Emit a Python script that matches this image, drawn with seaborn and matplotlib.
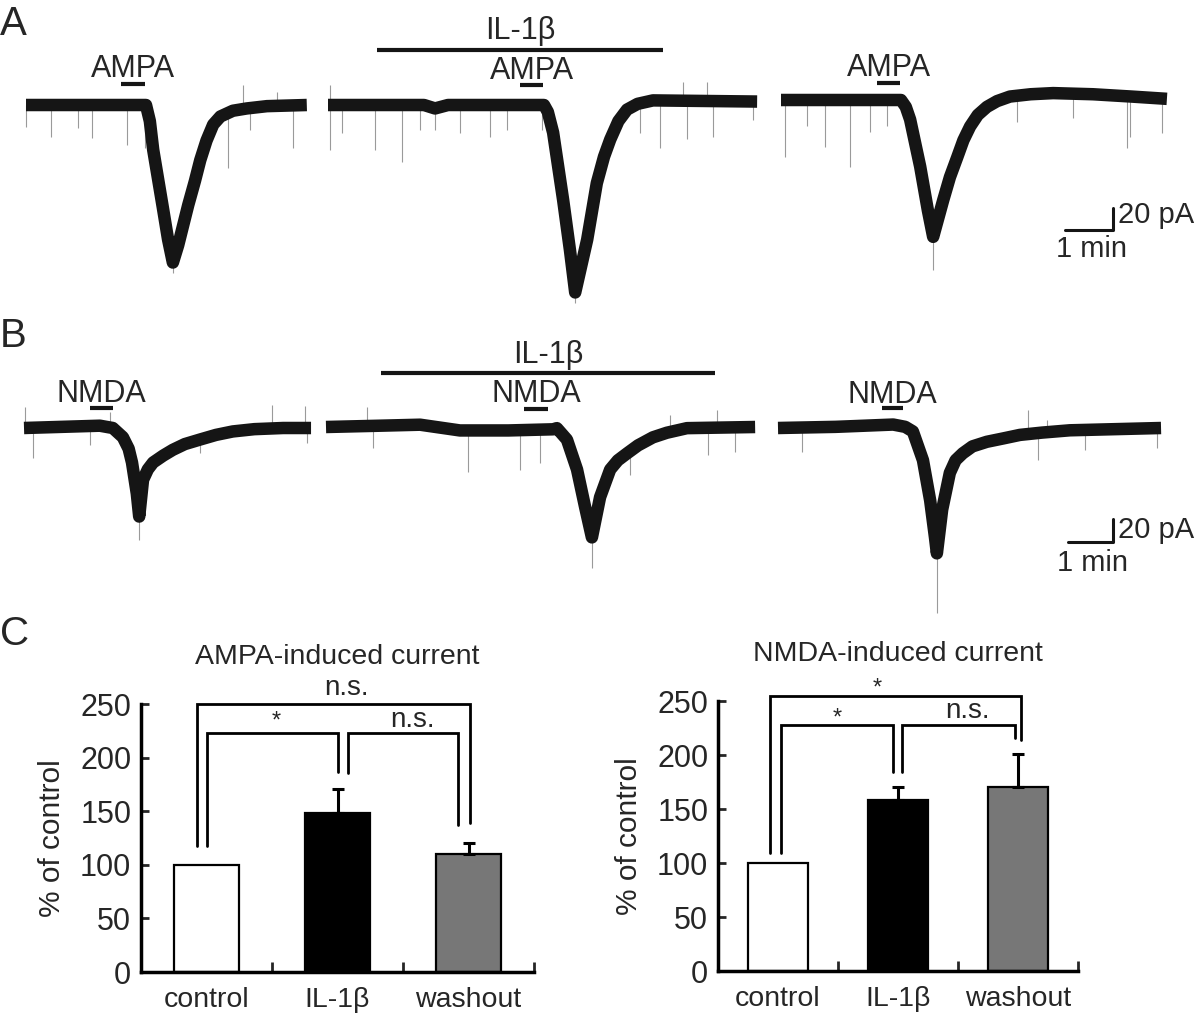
import numpy as np
import pandas as pd
import matplotlib
matplotlib.use("Agg")
import matplotlib.pyplot as plt
import seaborn as sns

sns.set_theme(style="white")
plt.rcParams['font.family'] = ['Liberation Sans', 'DejaVu Sans']

# ---- traces: time (min) and current (pA) ----
a1_t = [0, 2.50, 2.58, 2.65, 2.85, 2.96, 3.06, 3.17, 3.38, 3.52, 3.63, 3.76, 3.90, 4.05, 4.31, 4.6, 5.02, 5.85]
a1_i = [0, 0, -14, -39, -89, -117, -137, -122, -87, -66, -48, -31, -17, -10, -5, -3, -1, 0]
a2_t = [0, 2.0, 2.23, 2.5, 4.50, 4.58, 4.69, 4.90, 5.04, 5.15, 5.40, 5.60, 5.75, 5.88, 6.05, 6.23, 6.45, 6.77, 8.94]
a2_i = [0, 0, -3, 0, 0, -6, -24, -83, -126, -163, -117, -68, -45, -30, -14, -4, 1, 4, 3]
a3_t = [0, 2.50, 2.60, 2.69, 2.90, 3.06, 3.17, 3.38, 3.52, 3.67, 3.80, 3.94, 4.10, 4.29, 4.5, 4.77, 5.2, 5.67, 6.5, 7.3, 8.04]
a3_i = [0, 0, -6, -17, -58, -96, -119, -87, -67, -50, -35, -23, -13, -6, -1, 3, 5, 6, 5, 3, 1]

b1_t = [0, 1.58, 1.85, 2.06, 2.18, 2.25, 2.35, 2.40, 2.48, 2.58, 2.69, 2.9, 3.10, 3.35, 3.67, 4.0, 4.35, 4.8, 5.40, 5.98]
b1_i = [0, 2, 0, -8, -18, -30, -57, -77, -45, -36, -30, -24, -19, -14, -10, -6, -3, -1, 0, 0]
b2_t = [0, 1.0, 1.96, 2.79, 3.8, 4.73, 4.81, 5.02, 5.23, 5.40, 5.54, 5.71, 5.92, 6.08, 6.27, 6.5, 6.81, 7.1, 7.52, 8.94]
b2_i = [0, 1, 2, -3, -3, -2, -1, -11, -37, -70, -96, -61, -37, -29, -23, -16, -9, -5, -1, 0]
b3_t = [0, 1.2, 2.40, 2.65, 2.81, 3.02, 3.17, 3.27, 3.31, 3.42, 3.58, 3.70, 3.85, 4.05, 4.35, 4.7, 5.04, 5.5, 6.08, 7.98]
b3_i = [0, 1, 3, 1, -3, -28, -63, -95, -109, -71, -39, -28, -22, -16, -12, -9, -6, -4, -2, 0]

# noise spikes: time, start current, end current
a1_spk_t = [0.01, 0.52, 1.09, 1.37, 2.10, 2.48, 3.06, 4.21, 4.67, 5.56, 4.52, 5.23]
a1_spk_a = [0, 0, 0, 0, 0, 0, -137, -6, -3, -1, -4, -1]
a1_spk_b = [-19, -28, -20, -29, -35, -37, -146, -55, -22, -37, 17, 11]
a2_spk_t = [0.04, 0.29, 0.98, 1.54, 1.92, 2.23, 2.75, 3.38, 3.73, 4.46, 5.15, 6.5, 6.92, 7.48, 8.02, 8.85, 0.04, 7.4, 7.9]
a2_spk_a = [0, 0, 0, 0, 0, -3, 0, 0, 0, 0, -163, 4, 4, 4, 4, 3, 0, 4, 4]
a2_spk_b = [-39, -24, -39, -50, -22, -22, -24, -28, -22, -22, -172, -24, -37, -30, -28, -13, 17, 20, 20]
a3_spk_t = [0.08, 0.54, 0.92, 1.44, 1.85, 2.21, 3.17, 4.92, 6.08, 7.21, 7.27, 7.94]
a3_spk_a = [0, 0, 0, 0, 0, 0, -119, 3, 5, 3, 3, 1]
a3_spk_b = [-50, -23, -41, -58, -28, -23, -148, -19, -16, -42, -32, -29]

b1_spk_t = [0.19, 1.38, 2.40, 3.67, 5.9, 0.02, 5.17, 5.85, 1.79]
b1_spk_a = [0, 0, -77, -10, 0, 0, 0, 0, 0]
b1_spk_b = [-26, -15, -97, -22, -13, 18, 20, 19, 14]
b2_spk_t = [0.98, 2.96, 4.04, 4.46, 5.54, 6.33, 7.96, 8.52, 0.85, 8.15, 7.17]
b2_spk_a = [0, -3, -2, -2, -96, -20, 0, 0, 0, 0, 0]
b2_spk_b = [-18, -39, -37, -31, -123, -42, -24, -22, 17, 15, 10]
b3_spk_t = [0.5, 5.21, 5.42, 3.31, 6.4, 7.9, 5.6]
b3_spk_a = [0, -6, -5, -109, -2, 0, -4]
b3_spk_b = [-21, 16, -28, -161, -19, -17, 7]

# ---- bar chart values ----
categories = ['control', 'IL-1β', 'washout']
ampa_mean = [100, 148, 110]
ampa_sem = [0, 23, 10]
nmda_mean = [100, 158, 170]
nmda_sem = [0, 12, 31]
bar_colors = ['white', 'black', '#777777']

W, H = 1200, 1022
PX_MIN, PX_PA = 48.0, 1.15
fig = plt.figure(figsize=(12, 10.22), dpi=100)


def trace_axes(x0, y0):
    # x0, y0: pixel position of t=0, I=0
    t_lo, t_hi, i_lo, i_hi = -0.5, 9.5, -220, 90
    left = x0 + t_lo * PX_MIN
    width = (t_hi - t_lo) * PX_MIN
    top = y0 - i_hi * PX_PA
    height = (i_hi - i_lo) * PX_PA
    ax = fig.add_axes([left / W, 1 - (top + height) / H, width / W, height / H])
    ax.set_xlim(t_lo, t_hi)
    ax.set_ylim(i_lo, i_hi)
    ax.axis('off')
    ax.patch.set_alpha(0)
    return ax


def draw_trace(ax, t, i, st, sa, sb):
    ax.vlines(st, sa, sb, color='#9a9a9a', lw=0.8, zorder=1)
    sns.lineplot(x=t, y=i, ax=ax, color='#151515', lw=9, sort=False,
                 estimator=None, zorder=2)
    for ln in ax.lines:
        ln.set_solid_joinstyle('round')
        ln.set_solid_capstyle('butt')


def drug(ax, t0, t1, y, label, ly):
    ax.plot([t0, t1], [y, y], color='#151515', lw=3, solid_capstyle='butt')
    ax.text((t0 + t1) / 2, ly, label, ha='center', va='baseline', fontsize=22)


# Panel A
ax = trace_axes(26, 105)
draw_trace(ax, a1_t, a1_i, a1_spk_t, a1_spk_a, a1_spk_b)
drug(ax, 1.98, 2.48, 18, 'AMPA', 24)

ax = trace_axes(328, 105)
draw_trace(ax, a2_t, a2_i, a2_spk_t, a2_spk_a, a2_spk_b)
drug(ax, 4.0, 4.48, 17, 'AMPA', 23)
drug(ax, 1.02, 6.98, 48, 'IL-1β', 57)

ax = trace_axes(781, 100)
draw_trace(ax, a3_t, a3_i, a3_spk_t, a3_spk_a, a3_spk_b)
drug(ax, 2.0, 2.48, 15, 'AMPA', 21)
ax.plot([5.92, 6.92, 6.92], [-113, -113, -93.9], color='#151515', lw=2.2)
ax.text(7.02, -100, '20 pA', ha='left', va='center', fontsize=21)
ax.text(6.46, -130, '1 min', ha='center', va='center', fontsize=21)

# Panel B
ax = trace_axes(24, 428)
draw_trace(ax, b1_t, b1_i, b1_spk_t, b1_spk_a, b1_spk_b)
drug(ax, 1.38, 1.85, 17, 'NMDA', 23)

ax = trace_axes(326, 427)
draw_trace(ax, b2_t, b2_i, b2_spk_t, b2_spk_a, b2_spk_b)
drug(ax, 4.13, 4.63, 16, 'NMDA', 22)
drug(ax, 1.15, 8.10, 47, 'IL-1β', 56)

ax = trace_axes(778, 428)
draw_trace(ax, b3_t, b3_i, b3_spk_t, b3_spk_a, b3_spk_b)
drug(ax, 2.17, 2.60, 17, 'NMDA', 22)
ax.plot([6.04, 6.98, 6.98], [-99, -99, -79], color='#151515', lw=2.2)
ax.text(7.08, -89, '20 pA', ha='left', va='center', fontsize=21)
ax.text(6.56, -117, '1 min', ha='center', va='center', fontsize=21)

# panel letters
for letter, y in [('A', 24), ('B', 336), ('C', 634)]:
    fig.text(0 / W, 1 - y / H, letter, fontsize=29, va='center', ha='left')


# Panel C bars
def bar_panel(rect, means, sems, title, brackets):
    ax = fig.add_axes(rect)
    df = pd.DataFrame({'cond': categories, 'val': means})
    sns.barplot(data=df, x='cond', y='val', hue='cond', palette=bar_colors,
                edgecolor='black', linewidth=1.6, width=0.5, legend=False, ax=ax)
    ax.errorbar([1, 2], means[1:], yerr=[[0, 0], sems[1:]], fmt='none',
                ecolor='black', elinewidth=2.2, capsize=4, capthick=2.2)
    ax.set_xlim(-0.5, 2.5)
    ax.set_ylim(0, 250)
    ax.set_yticks([0, 50, 100, 150, 200, 250])
    sns.despine(ax=ax)
    for s in ['left', 'bottom']:
        ax.spines[s].set_linewidth(2.5)
        ax.spines[s].set_color('black')
    ax.tick_params(axis='y', direction='in', length=6, width=2, labelsize=22, pad=7,
                   left=True)
    ax.tick_params(axis='x', which='major', length=0, labelsize=20.5, pad=11)
    ax.set_xticks([0.5, 1.5, 2.5], minor=True)
    ax.tick_params(axis='x', which='minor', direction='in', length=7, width=2,
                   bottom=True)
    ax.set_xlabel('')
    ax.set_ylabel('% of control', fontsize=21.5, labelpad=10)
    ax.set_title(title, fontsize=20.5, pad=29)
    for x1, x2, top, l1, l2, txt, tx, ty in brackets:
        ax.plot([x1, x1, x2, x2], [l1, top, top, l2], color='black', lw=2,
                clip_on=False, solid_joinstyle='miter')
        if txt == '*':
            ax.text(tx, ty, txt, ha='center', va='center', fontsize=17)
        else:
            ax.text(tx, ty, txt, ha='center', va='baseline', fontsize=20)
    return ax


ampa_br = [(-0.07, 2.01, 250, 118, 139, 'n.s.', 1.07, 258),
           (0.0, 1.0, 223, 118, 187, '*', 0.53, 234),
           (1.08, 1.92, 223, 186, 137, 'n.s.', 1.57, 229)]
nmda_br = [(-0.067, 2.025, 255, 109, 214, '*', 0.825, 262),
           (0.025, 0.96, 228, 109, 184, '*', 0.49, 234),
           (1.03, 1.975, 228, 184, 216, 'n.s.', 1.575, 234)]

bar_panel([141 / W, 1 - 972 / H, 393 / W, 268 / H], ampa_mean, ampa_sem,
          'AMPA-induced current', ampa_br)
bar_panel([718 / W, 1 - 971 / H, 360 / W, 270 / H], nmda_mean, nmda_sem,
          'NMDA-induced current', nmda_br)

fig.savefig('out.png', dpi=100)
